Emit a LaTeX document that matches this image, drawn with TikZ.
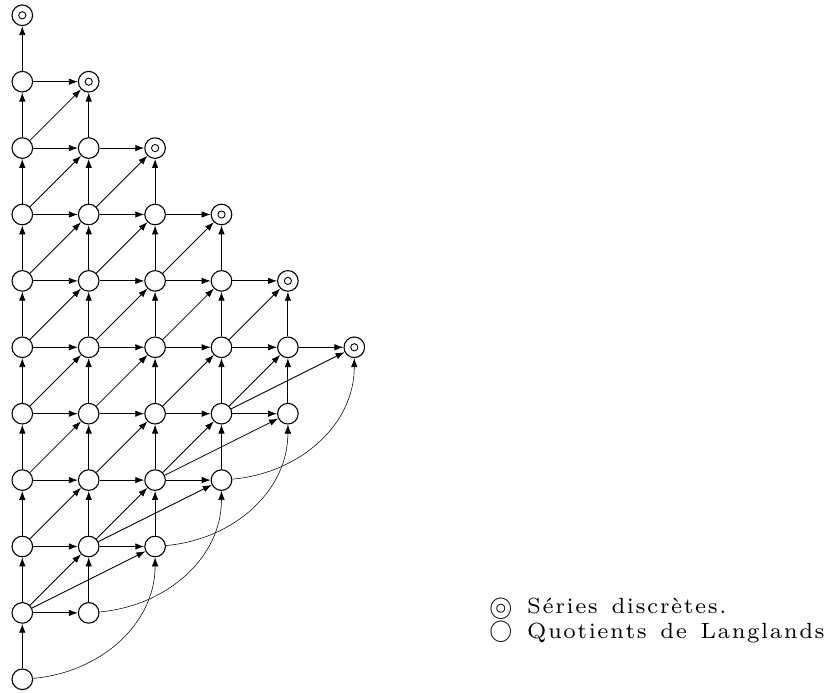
\documentclass[tikz,border=0pt]{standalone}
\usepackage{amssymb}
\usepackage{graphicx}
\usetikzlibrary{arrows.meta}

% spaced-out lettering for the legend: a kern after every letter of a word
\def\trkloop#1{\ifx#1\relax\else#1\kern.07em\expandafter\trkloop\fi}
\newcommand{\trkword}[1]{\trkloop#1\relax}
\newcommand{\wsp}{\hspace{.55em}}
\newcommand{\legfont}[1]{\scalebox{3.14}{\fontsize{7}{8.4}\selectfont #1}}
% a big circle with a small one inside
\newcommand{\ringring}{\ooalign{$\bigcirc$\cr\hidewidth$\circ$\hidewidth\cr}}

\tikzset{
  nd/.style={circle, draw, line width=1.1pt, minimum size=20.6pt, inner sep=0pt, fill=white},
  dsc/.style={nd, path picture={\draw[line width=0.9pt] (path picture bounding box.center) circle (3.6pt);}},
  arr/.style={line width=0.85pt, -{Latex[length=9pt,width=6.5pt]}},
  carr/.style={line width=0.55pt, -{Latex[length=9pt,width=6.5pt]}},
  legsym/.style={anchor=center, inner sep=0pt},
  legtxt/.style={anchor=base west, inner sep=0pt},
}

\begin{document}
\begin{tikzpicture}[x=1pt, y=1pt]
\useasboundingbox (0,0) rectangle (831,693);

% nodes: column i holds rows i..10-i, the top one being a discrete series
\foreach \i in {0,...,5} {
  \pgfmathtruncatemacro\rmax{10-\i}
  \foreach \r in {\i,...,\rmax} {
    \ifnum\r=\rmax
      \node[dsc] (n-\i-\r) at ({22.3+66.4*\i},{13.7+66.4*\r}) {};
    \else
      \node[nd] (n-\i-\r) at ({22.3+66.4*\i},{13.7+66.4*\r}) {};
    \fi
  }
}

% vertical, horizontal and diagonal arrows
\foreach \i in {0,...,5} {
  \pgfmathtruncatemacro\rmax{10-\i}
  \pgfmathtruncatemacro\hmax{9-\i}
  \pgfmathtruncatemacro\inx{\i+1}
  \foreach \r in {\i,...,\rmax} {
    \pgfmathtruncatemacro\rn{\r+1}
    \ifnum\r<\rmax
      \draw[arr] (n-\i-\r) -- (n-\i-\rn);
    \fi
    \ifnum\r>\i
      \ifnum\r<\rmax
        \draw[arr] (n-\i-\r) -- (n-\inx-\r);
      \fi
      \ifnum\r<\hmax
        \draw[arr] (n-\i-\r) -- (n-\inx-\rn);
      \fi
    \fi
  }
}

% long arrows towards the next diagonal node but one
\foreach \i in {0,...,3} {
  \pgfmathtruncatemacro\ra{\i+1}
  \pgfmathtruncatemacro\jb{\i+2}
  \draw[arr] (n-\i-\ra) -- (n-\jb-\jb);
  \draw[carr] (n-\i-\i) to[out=5, in=-90] (n-\jb-\jb);
}

% legend
\node[legsym] (s1) at (500.8,86.5) {\scalebox{2.3}{\ringring}};
\node[legtxt] (t1) at (527,79) {\legfont{\trkword{Séries}\wsp\trkword{discrètes.}}};
\node[legsym] (s2) at (500.8,61.5) {\scalebox{2.3}{$\bigcirc$}};
\node[legtxt] (t2) at (527,54) {\legfont{\trkword{Quotients}\wsp\trkword{de}\wsp\trkword{Langlands}}};
\end{tikzpicture}
\end{document}
